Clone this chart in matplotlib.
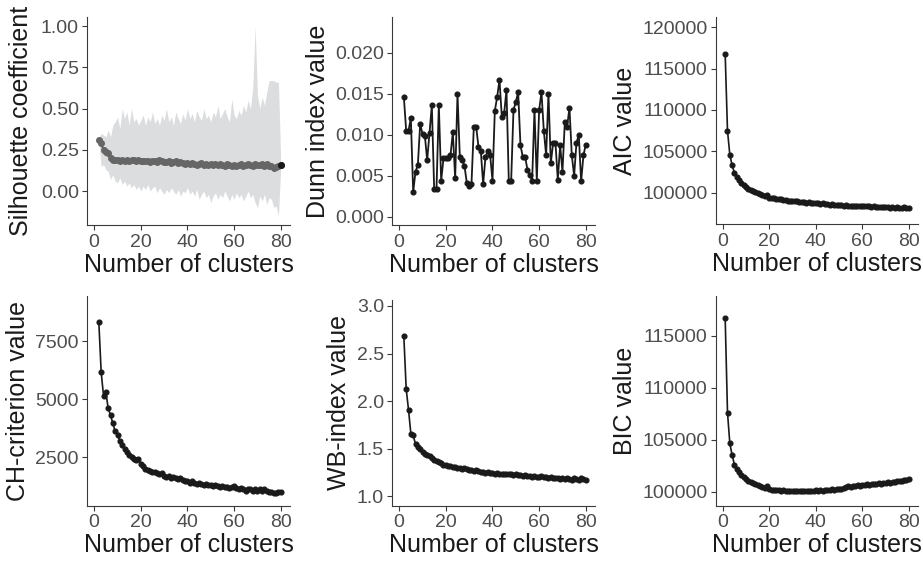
import numpy as np
import matplotlib
matplotlib.use("Agg")
import matplotlib.pyplot as plt

plt.rcParams["font.family"] = ["Liberation Sans", "DejaVu Sans"]

# ============================================================
# data
# ============================================================

k_from1 = list(range(1, 81))
k_from2 = list(range(2, 81))

sil_mean = [
    0.31, 0.29, 0.25, 0.24, 0.23, 0.20, 0.19, 0.19, 0.19,
    0.185, 0.19, 0.185, 0.19, 0.185, 0.19, 0.19, 0.185, 0.19, 0.185,
    0.18, 0.185, 0.18, 0.175, 0.185, 0.18, 0.175, 0.19, 0.18, 0.175,
    0.175, 0.18, 0.17, 0.175, 0.18, 0.17, 0.175, 0.17, 0.165, 0.17,
    0.165, 0.17, 0.165, 0.16, 0.165, 0.17, 0.16, 0.165, 0.16, 0.165,
    0.16, 0.165, 0.16, 0.165, 0.16, 0.155, 0.165, 0.16, 0.155, 0.16,
    0.155, 0.16, 0.165, 0.155, 0.16, 0.165, 0.16, 0.155, 0.165, 0.16,
    0.16, 0.165, 0.155, 0.165, 0.155, 0.15, 0.14, 0.145, 0.155, 0.16,
]
sil_upper = [
    0.32, 0.35, 0.34, 0.33, 0.37, 0.33, 0.40, 0.42, 0.45,
    0.38, 0.50, 0.44, 0.48, 0.40, 0.50, 0.42, 0.44, 0.40, 0.43,
    0.46, 0.40, 0.45, 0.42, 0.48, 0.41, 0.44, 0.40, 0.46, 0.43,
    0.50, 0.42, 0.45, 0.40, 0.48, 0.44, 0.41, 0.47, 0.43, 0.50,
    0.44, 0.47, 0.42, 0.49, 0.45, 0.43, 0.50, 0.44, 0.46, 0.42,
    0.48, 0.45, 0.52, 0.44, 0.47, 0.50, 0.45, 0.42, 0.56, 0.46,
    0.44, 0.49, 0.46, 0.52, 0.48, 0.55, 0.50, 0.63, 1.00, 0.58,
    0.50, 0.57, 0.52, 0.60, 0.67, 0.67, 0.67, 0.66, 0.66, 0.17,
]
sil_lower = [
    0.30, 0.15, 0.16, 0.13, 0.12, 0.07, 0.10, 0.06, 0.05,
    0.08, 0.04, 0.06, 0.03, 0.05, 0.02, 0.04, 0.01, 0.03, 0.00,
    0.03, 0.01, 0.04, 0.00, 0.02, 0.03, -0.01, 0.02, 0.00, -0.02,
    0.01, -0.01, 0.02, 0.00, -0.02, 0.01, -0.03, 0.00, -0.01, 0.02,
    -0.02, 0.00, -0.03, 0.01, -0.05, -0.02, 0.00, -0.04, -0.02, -0.07,
    -0.03, -0.01, -0.05, -0.02, -0.04, 0.00, -0.03, -0.06, -0.02, -0.05,
    -0.01, -0.04, -0.02, -0.06, -0.03, 0.00, -0.04, -0.02, -0.07, -0.10,
    -0.03, -0.06, -0.02, -0.08, -0.04, -0.05, -0.10, -0.09, -0.15, 0.15,
]

dunn = [
    0.0146, 0.0105, 0.0105, 0.0120, 0.0030, 0.0055, 0.0063, 0.0113, 0.0101,
    0.0099, 0.0069, 0.0102, 0.0136, 0.0034, 0.0034, 0.0136, 0.0044, 0.0071, 0.0072,
    0.0072, 0.0075, 0.0103, 0.0047, 0.0150, 0.0073, 0.0069, 0.0062, 0.0041, 0.0037,
    0.0040, 0.0110, 0.0110, 0.0085, 0.0080, 0.0040, 0.0073, 0.0080, 0.0075, 0.0044,
    0.0129, 0.0146, 0.0167, 0.0122, 0.0126, 0.0155, 0.0043, 0.0043, 0.0130, 0.0140,
    0.0152, 0.0087, 0.0073, 0.0073, 0.0057, 0.0051, 0.0044, 0.0130, 0.0044, 0.0130,
    0.0152, 0.0105, 0.0075, 0.0150, 0.0065, 0.0090, 0.0090, 0.0045, 0.0087, 0.0055,
    0.0115, 0.0110, 0.0133, 0.0075, 0.0050, 0.0090, 0.0100, 0.0043, 0.0075, 0.0088,
]

aic = [
    116800, 107500, 104600, 103300, 102400, 101900, 101500, 101200, 100950, 100700,
    100500, 100350, 100200, 100050, 99950, 99850, 99750, 99650, 99750, 99400,
    99350, 99300, 99250, 99200, 99200, 99150, 99100, 99050, 99050, 99000,
    98950, 98950, 98900, 98850, 98850, 98800, 98850, 98750, 98750, 98700,
    98700, 98650, 98700, 98600, 98600, 98550, 98600, 98550, 98550, 98500,
    98500, 98450, 98500, 98450, 98450, 98400, 98450, 98400, 98400, 98450,
    98400, 98350, 98400, 98300, 98350, 98300, 98300, 98250, 98300, 98250,
    98250, 98200, 98300, 98200, 98250, 98200, 98150, 98250, 98200, 98200,
]

ch = [
    8300, 6150, 5150, 5300, 4600, 4300, 3950, 3600, 3450,
    3200, 3000, 2850, 2700, 2600, 2500, 2400, 2350, 2400, 2200,
    2100, 2000, 1950, 1900, 1850, 1850, 1800, 1750, 1800, 1700,
    1650, 1700, 1600, 1650, 1600, 1550, 1600, 1500, 1450, 1450,
    1400, 1450, 1400, 1350, 1400, 1350, 1300, 1350, 1300, 1300,
    1250, 1300, 1250, 1200, 1250, 1200, 1200, 1150, 1200, 1250,
    1150, 1100, 1150, 1100, 1050, 1100, 1100, 1050, 1100, 1050,
    1100, 1050, 1100, 1050, 1000, 1000, 950, 950, 1000, 1000,
]

wb = [
    2.68, 2.13, 1.91, 1.66, 1.64, 1.55, 1.52, 1.50, 1.47,
    1.45, 1.43, 1.42, 1.40, 1.38, 1.37, 1.36, 1.35, 1.33, 1.33,
    1.32, 1.32, 1.31, 1.31, 1.30, 1.30, 1.29, 1.30, 1.29, 1.28,
    1.28, 1.27, 1.28, 1.27, 1.26, 1.26, 1.25, 1.26, 1.25, 1.25,
    1.24, 1.25, 1.24, 1.24, 1.24, 1.23, 1.24, 1.23, 1.22, 1.23,
    1.22, 1.22, 1.21, 1.22, 1.21, 1.21, 1.20, 1.21, 1.20, 1.20,
    1.21, 1.20, 1.20, 1.19, 1.20, 1.19, 1.19, 1.19, 1.18, 1.19,
    1.18, 1.19, 1.18, 1.17, 1.19, 1.18, 1.17, 1.19, 1.18, 1.17,
]

bic = [
    116700, 107600, 104650, 103500, 102600, 102200, 101900, 101650, 101400, 101200,
    101050, 100900, 100800, 100700, 100600, 100500, 100450, 100400, 100550, 100250,
    100200, 100200, 100150, 100150, 100100, 100150, 100050, 100100, 100100, 100050,
    100100, 100050, 100100, 100050, 100100, 100050, 100100, 100100, 100050, 100150,
    100100, 100150, 100100, 100200, 100150, 100200, 100250, 100200, 100250, 100300,
    100300, 100350, 100450, 100500, 100450, 100550, 100500, 100600, 100550, 100650,
    100600, 100700, 100650, 100750, 100700, 100750, 100800, 100750, 100850, 100800,
    100900, 100850, 100950, 100950, 101000, 101050, 101050, 101100, 101150, 101250,
]

xticks = [0, 20, 40, 60, 80]

# ============================================================
# layout (pixel boxes: left, right, top, bottom)
# ============================================================

W, H = 923, 562
DPI = 100

TICK_COLOR = "#4d4d4d"
LINE_COLOR = "#1a1a1a"
MS = 3.4


def add_panel(fig, box):
    l, r, t, b = box
    ax = fig.add_axes([l / W, 1 - b / H, (r - l) / W, (b - t) / H])
    for side in ["top", "right"]:
        ax.spines[side].set_visible(False)
    for side in ["left", "bottom"]:
        ax.spines[side].set_color("#3a3a3a")
        ax.spines[side].set_linewidth(0.8)
    ax.tick_params(colors="#3a3a3a", labelcolor=TICK_COLOR, labelsize=14,
                   length=3.5, width=0.8, pad=2.5)
    ax.set_xlim(-2.95, 83.95)
    ax.set_xticks(xticks)
    ax.set_xlabel("Number of clusters", fontsize=18, color="#1a1a1a", labelpad=1.5)
    return ax


fig = plt.figure(figsize=(W / DPI, H / DPI), dpi=DPI)

# silhouette
ax = add_panel(fig, (87.3, 290, 16.7, 225.3))
ax.fill_between(k_from2, sil_lower, sil_upper, color="#dcdddf", lw=0)
ax.plot(k_from2, sil_mean, color="#666666", lw=1.6, marker="o", ms=4.0)
ax.plot(k_from2[-1:], sil_mean[-1:], color=LINE_COLOR, lw=0, marker="o", ms=4.0)
ax.set_ylim(-0.2075, 1.0575)
ax.set_yticks([0.0, 0.25, 0.5, 0.75, 1.0])
ax.set_yticklabels(["0.00", "0.25", "0.50", "0.75", "1.00"])
ax.set_ylabel("Silhouette coefficient", fontsize=18, labelpad=6, color="#1a1a1a")

# Dunn
ax = add_panel(fig, (392.3, 595, 16.7, 225.3))
ax.plot(k_from2, dunn, color=LINE_COLOR, lw=1.3, marker="o", ms=MS)
ax.set_ylim(-0.00105, 0.0244)
ax.set_yticks([0.0, 0.005, 0.010, 0.015, 0.020])
ax.set_yticklabels(["0.000", "0.005", "0.010", "0.015", "0.020"])
ax.set_ylabel("Dunn index value", fontsize=18, labelpad=4, color="#1a1a1a")

# AIC
ax = add_panel(fig, (716, 917.7, 16.7, 224.3))
ax.plot(k_from1, aic, color=LINE_COLOR, lw=1.2, marker="o", ms=MS)
ax.set_ylim(96180, 121280)
ax.set_yticks([100000, 105000, 110000, 115000, 120000])
ax.set_yticklabels(["100000", "105000", "110000", "115000", "120000"])
ax.set_ylabel("AIC value", fontsize=18, labelpad=4, color="#1a1a1a")

# CH
ax = add_panel(fig, (87.3, 290, 296, 505.7))
ax.plot(k_from2, ch, color=LINE_COLOR, lw=1.2, marker="o", ms=MS)
ax.set_ylim(401, 9440)
ax.set_yticks([2500, 5000, 7500])
ax.set_yticklabels(["2500", "5000", "7500"])
ax.set_ylabel("CH-criterion value", fontsize=18, labelpad=4, color="#1a1a1a")

# WB
ax = add_panel(fig, (392.3, 595, 300, 505.7))
ax.plot(k_from2, wb, color=LINE_COLOR, lw=1.2, marker="o", ms=MS)
ax.set_ylim(0.902, 3.063)
ax.set_yticks([1.0, 1.5, 2.0, 2.5, 3.0])
ax.set_yticklabels(["1.0", "1.5", "2.0", "2.5", "3.0"])
ax.set_ylabel("WB-index value", fontsize=18, labelpad=4, color="#1a1a1a")

# BIC
ax = add_panel(fig, (716, 918, 296, 505.7))
ax.plot(k_from1, bic, color=LINE_COLOR, lw=1.2, marker="o", ms=MS)
ax.set_ylim(98650, 118850)
ax.set_yticks([100000, 105000, 110000, 115000])
ax.set_yticklabels(["100000", "105000", "110000", "115000"])
ax.set_ylabel("BIC value", fontsize=18, labelpad=4, color="#1a1a1a")

fig.savefig("out.png", dpi=DPI)
plt.close(fig)
